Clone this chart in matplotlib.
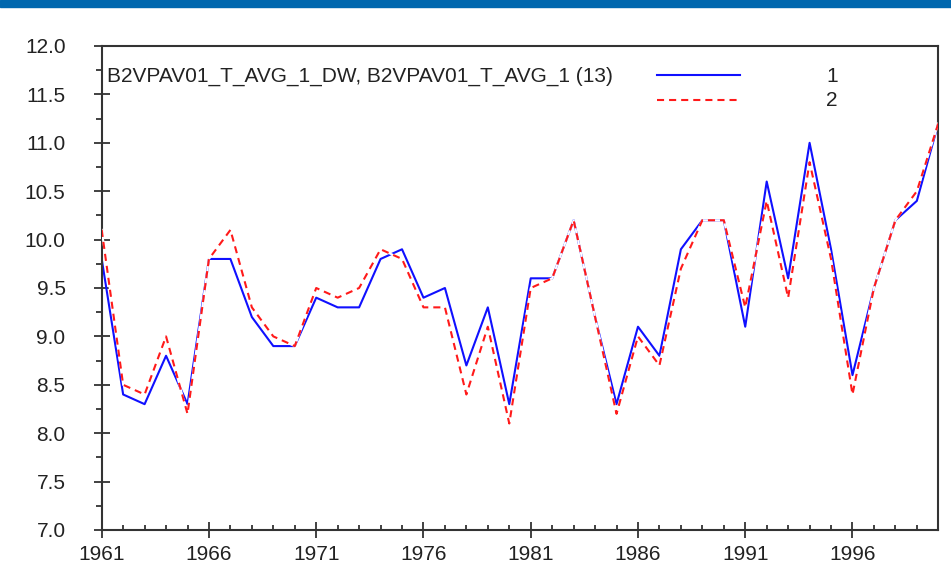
"""
Recreate the B2VPAV01 temperature comparison chart (1961-2000):
series 1 (solid blue) against series 2 (dashed red), saved as out.png.
"""

import matplotlib

matplotlib.use("Agg")  # no display in the sandbox

import matplotlib.pyplot as plt  # noqa: E402
from matplotlib.lines import Line2D  # noqa: E402
from matplotlib.patches import Rectangle  # noqa: E402
from matplotlib.ticker import MultipleLocator  # noqa: E402

# --- data ---
YEARS = list(range(1961, 2001))

SERIES_1 = [9.8, 8.4, 8.3, 8.8, 8.3, 9.8, 9.8, 9.2, 8.9, 8.9,
            9.4, 9.3, 9.3, 9.8, 9.9, 9.4, 9.5, 8.7, 9.3, 8.3,
            9.6, 9.6, 10.2, 9.2, 8.3, 9.1, 8.8, 9.9, 10.2, 10.2,
            9.1, 10.6, 9.6, 11.0, 9.9, 8.6, 9.5, 10.2, 10.4, 11.2]

SERIES_2 = [10.1, 8.5, 8.4, 9.0, 8.2, 9.8, 10.1, 9.3, 9.0, 8.9,
            9.5, 9.4, 9.5, 9.9, 9.8, 9.3, 9.3, 8.4, 9.1, 8.1,
            9.5, 9.6, 10.2, 9.2, 8.2, 9.0, 8.7, 9.7, 10.2, 10.2,
            9.3, 10.4, 9.4, 10.8, 9.8, 8.4, 9.5, 10.2, 10.5, 11.2]

X_TICKS = [1961, 1966, 1971, 1976, 1981, 1986, 1991, 1996]
LEGEND_TITLE = "B2VPAV01_T_AVG_1_DW, B2VPAV01_T_AVG_1 (13)"
SERIES_NAMES = ["1", "2"]

W, H = 951, 573
FONT = "Liberation Sans"
TEXT_COLOR = "#222222"
BLUE = "#1010ff"
RED = "#ff1a1a"
DASHES = (3.4, 2.4)


def px(x, y):
    """Pixel position (top-left origin) -> figure fraction."""
    return x / W, 1 - y / H


def draw_legend(fig):
    fig.text(*px(107, 76), LEGEND_TITLE, fontsize=15, family=FONT,
             color=TEXT_COLOR, va="center", ha="left")
    for (y, color, style), name in zip(
        [(75, BLUE, None), (100, RED, DASHES)], SERIES_NAMES
    ):
        (x0, yf), (x1, _) = px(657, y), px(740, y)
        line = Line2D([x0, x1], [yf, yf], transform=fig.transFigure,
                      color=color, lw=1.5)
        if style:
            line.set_dashes(style)
        fig.add_artist(line)
        fig.text(*px(832, y + 1), name, fontsize=15, family=FONT,
                 color=TEXT_COLOR, va="center", ha="center")


def main():
    fig = plt.figure(figsize=(W / 100, H / 100), dpi=100)
    fig.patches.append(Rectangle((0, 1 - 7 / H), 1, 7 / H,
                                 transform=fig.transFigure,
                                 color="#0067ae", zorder=0))

    left, right = 101.7 / W, 938.3 / W
    top, bottom = 1 - 46 / H, 1 - 530 / H
    ax = fig.add_axes([left, bottom, right - left, top - bottom])

    ax.plot(YEARS, SERIES_1, color=BLUE, lw=1.5, zorder=2)
    # GDI-style dashed pen: gaps are painted with the background colour
    ax.plot(YEARS, SERIES_2, color="white", lw=1.5, zorder=3)
    (red,) = ax.plot(YEARS, SERIES_2, color=RED, lw=1.5, zorder=4)
    red.set_dashes(DASHES)

    ax.set_xlim(1961, 2000)
    ax.set_ylim(7.0, 12.0)
    ax.set_xticks(X_TICKS)
    ax.xaxis.set_minor_locator(MultipleLocator(1))
    ax.yaxis.set_major_locator(MultipleLocator(0.5))
    ax.yaxis.set_minor_locator(MultipleLocator(0.25))
    ax.yaxis.set_major_formatter(plt.FormatStrFormatter("%.1f"))

    for side in ax.spines.values():
        side.set_linewidth(1.5)
        side.set_color("#333333")

    ax.tick_params(axis="x", which="major", direction="inout", length=12,
                   width=1.3, pad=5, labelsize=15, colors="#333333",
                   labelcolor=TEXT_COLOR)
    ax.tick_params(axis="x", which="minor", direction="in", length=3.5,
                   width=1.3, colors="#333333")
    ax.tick_params(axis="y", which="major", direction="inout", length=12,
                   width=1.3, pad=20, labelsize=15, colors="#333333",
                   labelcolor=TEXT_COLOR)
    ax.tick_params(axis="y", which="minor", direction="out", length=4.5,
                   width=1.3, colors="#333333")
    for label in ax.get_xticklabels() + ax.get_yticklabels():
        label.set_family(FONT)

    draw_legend(fig)
    fig.savefig("out.png", dpi=100)
    plt.close(fig)


if __name__ == "__main__":
    main()
